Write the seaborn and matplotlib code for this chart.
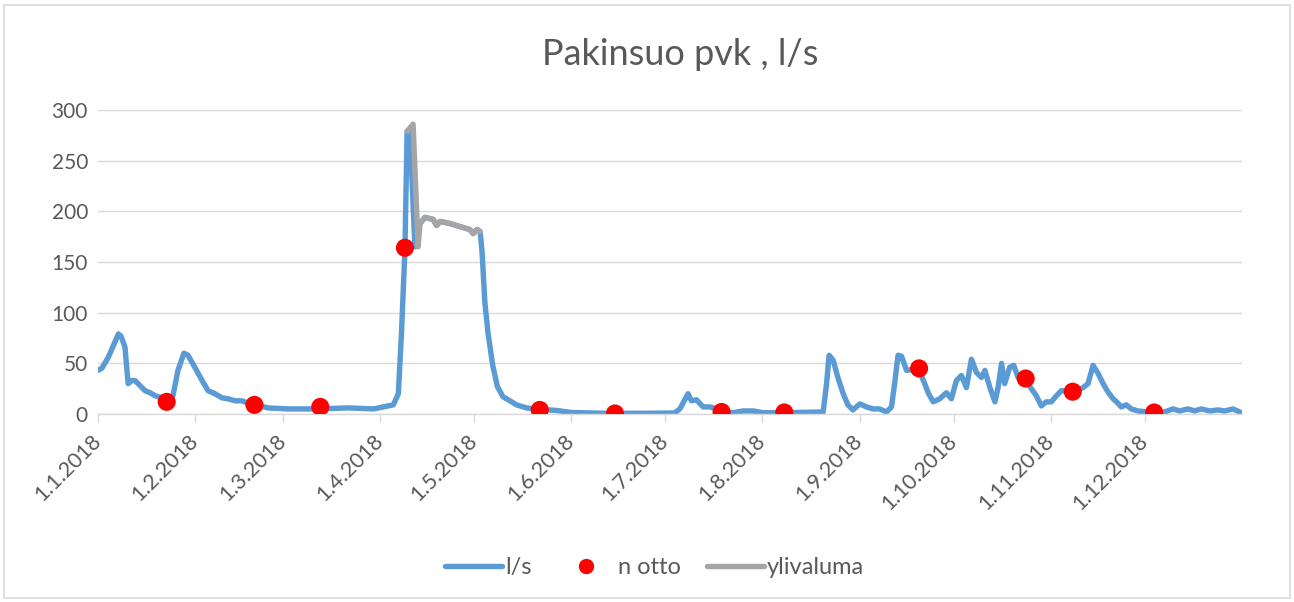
import numpy as np
import pandas as pd
import matplotlib
matplotlib.use('Agg')
import matplotlib.pyplot as plt
from matplotlib.lines import Line2D
from matplotlib.patches import Rectangle
import seaborn as sns

# Päivät vuoden alusta (1.1.2018 = 0) ja virtaama l/s, luettu kuvasta
flow_days = [0, 1.3, 3.4, 6.6, 7.4, 8.7, 9.7, 10.9, 11.9, 13.5, 15.1, 16.7, 18.3, 20.5,
             22.4, 24, 25.6, 27.5, 28.8, 31, 33.3, 35.2, 37.4, 39.6, 41.6, 43.8, 46,
             48.6, 50.5, 54.3, 60.7, 70, 80, 88, 94.3, 95.9, 96.9, 98, 98.7, 99.6, 101.2,
             102.8, 104.4, 107, 108.1, 109.2, 112.3, 116.6, 118.7, 119.8, 121, 122,
             122.6, 123.5, 124.5, 126, 127.5, 129.3, 131.5, 133.6, 136.8, 141.3, 146.4,
             151, 162, 175, 184, 185.7, 188.3, 189.4, 191, 193.1, 195.3, 197.4, 199.5,
             202.7, 205.9, 209.1, 212.2, 219.4, 231.4, 232.5, 233.3, 234.6, 236.2, 237.8,
             239.3, 240.9, 243.1, 245.2, 247.3, 249.4, 251.6, 253.2, 254.2, 255.3, 256.4,
             258, 260, 261.7, 263.8, 264.9, 266.5, 268.6, 270.7, 272.3, 273.9, 275.5,
             277.1, 278.7, 280.3, 281.9, 283, 284.6, 286.2, 287.2, 288.3, 289.3, 290.9,
             292.2, 293.6, 295.6, 297.8, 299.4, 301, 302.6, 304.2, 305.8, 307.4, 311.4,
             314.3, 315.9, 317.5, 319.1, 320.7, 322.3, 323.9, 325, 326.5, 328.1, 329.7,
             331.8, 337.1, 340.3, 343, 345.1, 347.8, 349.9, 352, 354.7, 357.3, 359.5,
             362.1, 364.3]
flow_values = [43, 45, 56, 79, 77, 66, 30, 33, 33, 28, 23, 21, 18, 16,
               14, 18, 43, 60, 58, 46, 33, 23, 20, 16, 15, 13, 13,
               10, 9, 6, 5, 5, 6, 5, 9, 20, 80, 162, 279, 277, 165,
               188, 194, 192, 186, 190, 188, 184, 182, 178, 182, 180,
               160, 110, 80, 48, 27, 17, 13, 9, 6, 4.5, 3.5,
               1.5, 0.7, 0.7, 1, 5, 20, 13, 14, 7, 7, 5, 2,
               1.3, 3, 3, 1.3, 1.3, 2, 30, 58, 53, 35, 20,
               9, 4, 10, 7, 5, 5, 2, 7, 30, 58, 57,
               43, 44, 45, 30, 21, 12, 15, 21, 15, 33, 38,
               26, 54, 41, 36, 43, 26, 12, 26, 50, 30, 46,
               48, 36, 35, 25, 18, 8, 12, 12, 18, 23, 22,
               26, 30, 48, 40, 30, 21.5, 15, 12, 7, 9, 5,
               3, 1.3, 2, 5, 3, 5, 3, 5, 3, 4, 3,
               5, 2]

# Ylivaluma kevättulvan aikana
over_days = [98.7, 100.6, 102.2, 102.8, 104.4, 107, 108.1, 109.2, 112.3, 116.6,
             118.7, 119.8, 121, 122]
over_values = [279, 286, 165, 188, 194, 192, 186, 190, 188, 184, 182, 178, 182, 180]

# Näytteenotot
sample_dates = ['2018-01-23', '2018-02-20', '2018-03-13', '2018-04-09', '2018-05-22',
                '2018-06-15', '2018-07-19', '2018-08-08', '2018-09-20', '2018-10-24',
                '2018-11-08', '2018-12-04']
sample_values = [12, 9, 7, 164, 4, 0.5, 2, 1.5, 45, 35, 22, 1.5]

base = pd.Timestamp('2018-01-01')
flow = pd.DataFrame({'date': base + pd.to_timedelta(flow_days, unit='D'),
                     'value': flow_values})
over = pd.DataFrame({'date': base + pd.to_timedelta(over_days, unit='D'),
                     'value': over_values})
samples = pd.DataFrame({'date': pd.to_datetime(sample_dates), 'value': sample_values})

BLUE = '#5B9BD5'
GRAY = '#A5A5A5'
RED = '#FF0000'
TXT = '#595959'
GRID = '#D9D9D9'

sns.set_theme(style='white')
plt.rcParams['font.family'] = ['Lato', 'DejaVu Sans']

fig = plt.figure(figsize=(12.94, 6.02), dpi=100)
ax = fig.add_axes([0.0755, 0.3123, 0.8843, 0.505])

sns.lineplot(data=flow, x='date', y='value', ax=ax, color=BLUE, linewidth=3.9,
             estimator=None, sort=False, zorder=2)
sns.lineplot(data=over, x='date', y='value', ax=ax, color=GRAY, linewidth=3.9,
             estimator=None, sort=False, zorder=3)
sns.scatterplot(data=samples, x='date', y='value', ax=ax, color=RED, s=170,
                edgecolor='none', zorder=4)

ax.set_xlim(base, pd.Timestamp('2019-01-01'))
ax.set_ylim(0, 300)
ax.set_yticks(range(0, 301, 50))
ax.yaxis.grid(True, color=GRID, linewidth=1)
ax.set_xlabel('')
ax.set_ylabel('')

months = pd.date_range('2018-01-01', '2018-12-01', freq='MS')
ax.set_xticks(months)
ax.set_xticklabels([f'{d.day}.{d.month}.{d.year}' for d in months],
                   rotation=45, ha='right', va='center', rotation_mode='anchor')

for s in ['top', 'right', 'left']:
    ax.spines[s].set_visible(False)
ax.spines['bottom'].set_color(GRID)
ax.spines['bottom'].set_linewidth(1)
ax.tick_params(axis='x', which='major', length=6, width=1, color=GRID,
               labelsize=15.5, labelcolor=TXT, pad=11, bottom=True)
ax.tick_params(axis='y', length=0, labelsize=15, labelcolor=TXT, pad=7)

fig.text(0.526, 0.909, 'Pakinsuo pvk , l/s', ha='center', va='center',
         fontsize=26, color=TXT)

handles = [Line2D([0], [0], color=BLUE, lw=3.9),
           Line2D([0], [0], color=RED, marker='o', linestyle='none', markersize=10),
           Line2D([0], [0], color=GRAY, lw=3.9)]
fig.legend(handles, ['l/s', 'n otto', 'ylivaluma'], loc='center',
           bbox_to_anchor=(0.506, 0.057), ncol=3, frameon=False, fontsize=17,
           labelcolor=TXT, handlelength=2.4, handletextpad=0.15, columnspacing=1.1)

fig.patches.append(Rectangle((0.003, 0.006), 0.994, 0.986, transform=fig.transFigure,
                             fill=False, edgecolor=GRID, linewidth=1.2))

fig.savefig('out.png', dpi=100, facecolor='white')
